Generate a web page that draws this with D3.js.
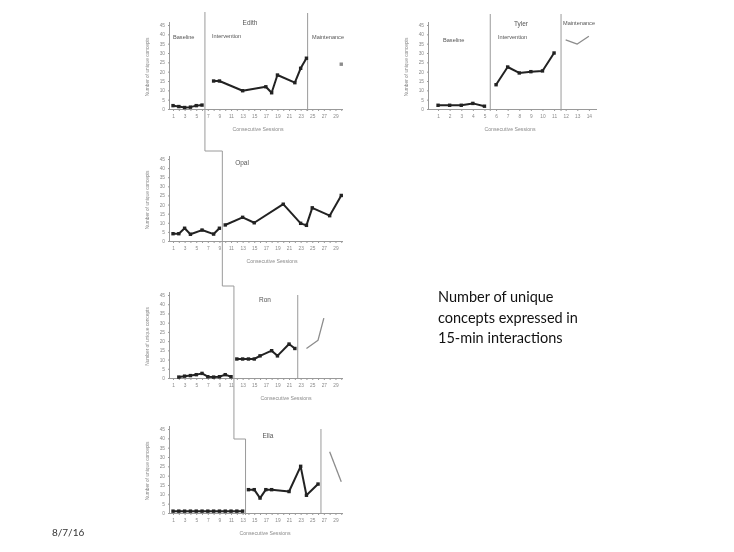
<!DOCTYPE html>
<html>
<head>
<meta charset="utf-8">
<script src="https://cdn.jsdelivr.net/npm/d3@7/dist/d3.min.js"></script>
<style>
  html, body { margin: 0; padding: 0; background: #fff; }
  svg { display: block; }
</style>
</head>
<body>
<svg id="chart" width="734" height="552"></svg>
<script>
// ---------------- DATA ----------------
const yTicks = [0, 5, 10, 15, 20, 25, 30, 35, 40, 45];
const longSessionTicks = d3.range(1, 31);
const longSessionLabels = [1, 3, 5, 7, 9, 11, 13, 15, 17, 19, 21, 23, 25, 27, 29];
const shortSessionTicks = d3.range(1, 15);
const shortSessionLabels = [1, 2, 3, 4, 5, 6, 7, 8, 9, 10, 11, 12, 13, 14];

const xTitle = "Consecutive Sessions";
const yTitle = "Number of unique concepts";

// Edith
const edithBaseSessions = [1, 2, 3, 4, 5, 6];
const edithBaseValues   = [1.8, 1.3, 0.8, 1, 1.8, 2.1];
const edithIntSessions  = [8, 9, 13, 17, 18, 19, 22, 23, 24];
const edithIntValues    = [15, 15, 9.8, 11.9, 8.7, 18.2, 14.1, 21.8, 27.2];
const edithMaintSessions = [30];
const edithMaintValues   = [24];
const edithPhaseChanges  = [6.5, 24.2];

// Tyler
const tylerBaseSessions = [1, 2, 3, 4, 5];
const tylerBaseValues   = [2, 2, 2, 3, 1.5];
const tylerIntSessions  = [6, 7, 8, 9, 10, 11];
const tylerIntValues    = [13, 22.5, 19.3, 20, 20.4, 30];
const tylerMaintSessions = [12, 13, 14];
const tylerMaintValues   = [37, 34.8, 39];
const tylerPhaseChanges  = [5.5, 11.6];

// Opal
const opalBaseSessions = [1, 2, 3, 4, 6, 8, 9];
const opalBaseValues   = [4, 4, 7, 3.7, 6, 3.8, 7];
const opalIntSessions  = [10, 13, 15, 20, 23, 24, 25, 28, 30];
const opalIntValues    = [8.8, 13, 10, 20.2, 9.7, 8.6, 18.2, 13.9, 25];
const opalPhaseChanges = [9.5];

// Ron
const ronBaseSessions = [2, 3, 4, 5, 6, 7, 8, 9, 10, 11];
const ronBaseValues   = [0.5, 1, 1.3, 1.8, 2.5, 0.7, 0.5, 0.7, 1.8, 0.7];
const ronIntSessions  = [12, 13, 14, 15, 16, 18, 19, 21, 22];
const ronIntValues    = [10.3, 10.3, 10.3, 10.3, 12, 14.8, 12, 18.4, 16];
const ronMaintSessions = [24, 26, 27];
const ronMaintValues   = [16, 20.5, 32.5];
const ronPhaseChanges  = [11.5, 22.5];

// Ella
const ellaBaseSessions = [1, 2, 3, 4, 5, 6, 7, 8, 9, 10, 11, 12, 13];
const ellaBaseValues   = [1, 1, 1, 1, 1, 1, 1, 1, 1, 1, 1, 1, 1];
const ellaIntSessions  = [14, 15, 16, 17, 18, 21, 23, 24, 26];
const ellaIntValues    = [12.5, 12.5, 8, 12.5, 12.5, 11.5, 25, 9.5, 15.5];
const ellaMaintSessions = [28, 30];
const ellaMaintValues   = [32.8, 16.8];
const ellaPhaseChanges  = [13.5, 26.5];

const noteLines = ["Number of unique", "concepts expressed in", "15-min interactions"];
const dateText = "8/7/16";

// ---------------- DRAW ----------------
const svg = d3.select("#chart");
svg.append("defs").append("filter").attr("id", "soft")
  .attr("x", "-5%").attr("y", "-5%").attr("width", "110%").attr("height", "110%")
  .append("feGaussianBlur").attr("stdDeviation", 0.55);
const chartLayer = svg.append("g").attr("filter", "url(#soft)");

const FONT = "Liberation Sans, Arial, sans-serif";
const axisCol = "#9a9a9a", labelCol = "#8a8a8a", lineCol = "#222", maintCol = "#8c8c8c", phaseCol = "#9a9a9a";

function zip(s, v) { return s.map((d, i) => ({ s: d, v: v[i] })); }

function panel(cfg) {
  const x = d3.scaleLinear().domain(cfg.xDomain).range([cfg.left, cfg.right]);
  const y = d3.scaleLinear().domain([0, 45]).range([cfg.bottom, cfg.top]);
  const g = chartLayer.append("g");

  const ya = d3.axisLeft(y).tickValues(yTicks).tickSize(2).tickPadding(3);
  const yg = g.append("g").attr("transform", `translate(${cfg.left},0)`).call(ya);
  yg.select(".domain").attr("stroke", axisCol).attr("d", `M-0.5,${cfg.top - 3}V${cfg.bottom}`);
  yg.selectAll(".tick line").attr("stroke", axisCol);
  yg.selectAll("text").attr("font-family", FONT).attr("font-size", 4.8).attr("fill", labelCol);

  const xa = d3.axisBottom(x).tickValues(cfg.ticks).tickSize(2).tickPadding(4)
    .tickFormat(d => cfg.labels.includes(d) ? d : "");
  const xg = g.append("g").attr("transform", `translate(0,${cfg.bottom})`).call(xa);
  xg.select(".domain").attr("stroke", axisCol).attr("d", `M${cfg.left},0.5H${cfg.right}`);
  xg.selectAll(".tick line").attr("stroke", axisCol);
  xg.selectAll("text").attr("font-family", FONT).attr("font-size", 4.8).attr("fill", labelCol);

  g.append("text").attr("x", cfg.xTitleX).attr("y", cfg.bottom + 22).attr("text-anchor", "middle")
    .attr("font-family", FONT).attr("font-size", 5.2).attr("fill", labelCol).text(xTitle);
  g.append("text").attr("transform", `translate(${cfg.left - 21},${(cfg.top + cfg.bottom) / 2}) rotate(-90)`)
    .attr("text-anchor", "middle").attr("font-family", FONT).attr("font-size", 4.8).attr("fill", labelCol).text(yTitle);
  g.append("text").attr("x", cfg.nameX).attr("y", cfg.nameY).attr("text-anchor", "middle")
    .attr("font-family", FONT).attr("font-size", 6.5).attr("fill", "#555").text(cfg.name);
  (cfg.phaseLabels || []).forEach(p => {
    g.append("text").attr("x", p.x).attr("y", p.y).attr("font-family", FONT)
      .attr("font-size", 5.6).attr("fill", "#555").text(p.t);
  });

  (cfg.phaseLines || []).forEach(p => {
    g.append("line").attr("x1", x(p.s)).attr("x2", x(p.s)).attr("y1", p.y1).attr("y2", p.y2)
      .attr("stroke", phaseCol).attr("stroke-width", 1);
  });

  const line = d3.line().x(d => x(d.s)).y(d => y(d.v));
  cfg.series.forEach(sr => {
    const data = zip(sr.s, sr.v);
    if (data.length > 1) {
      g.append("path").datum(data).attr("d", line).attr("fill", "none")
        .attr("stroke", sr.maint ? maintCol : lineCol).attr("stroke-width", sr.maint ? 1.3 : 2)
        .attr("stroke-linejoin", "round");
    }
    if (sr.markers) {
      g.selectAll(null).data(data).enter().append("rect")
        .attr("x", d => x(d.s) - 1.7).attr("y", d => y(d.v) - 1.7)
        .attr("width", 3.4).attr("height", 3.4)
        .attr("fill", sr.maint ? maintCol : lineCol);
    }
  });
  return { x, y };
}

const longDomain = [0.48, 30.3];

const pE = panel({
  left: 170, right: 343, top: 25, bottom: 109, xDomain: longDomain,
  ticks: longSessionTicks, labels: longSessionLabels, xTitleX: 258,
  name: "Edith", nameX: 250, nameY: 25,
  phaseLabels: [{ t: "Baseline", x: 173, y: 39 }, { t: "Intervention", x: 212, y: 38 }, { t: "Maintenance", x: 312, y: 39 }],
  phaseLines: [{ s: edithPhaseChanges[1], y1: 13, y2: 111 }],
  series: [
    { s: edithBaseSessions, v: edithBaseValues, markers: true },
    { s: edithIntSessions, v: edithIntValues, markers: true },
    { s: edithMaintSessions, v: edithMaintValues, markers: true, maint: true }
  ]
});

const pT = panel({
  left: 429, right: 597, top: 25, bottom: 109, xDomain: [0.22, 14.7],
  ticks: shortSessionTicks, labels: shortSessionLabels, xTitleX: 510,
  name: "Tyler", nameX: 521, nameY: 26,
  phaseLabels: [{ t: "Baseline", x: 443, y: 42 }, { t: "Intervention", x: 498, y: 39 }, { t: "Maintenance", x: 563, y: 25 }],
  phaseLines: [{ s: tylerPhaseChanges[0], y1: 14, y2: 111 }, { s: tylerPhaseChanges[1], y1: 14, y2: 111 }],
  series: [
    { s: tylerBaseSessions, v: tylerBaseValues, markers: true },
    { s: tylerIntSessions, v: tylerIntValues, markers: true },
    { s: tylerMaintSessions, v: tylerMaintValues, markers: false, maint: true }
  ]
});

const pO = panel({
  left: 170, right: 343, top: 159, bottom: 241, xDomain: longDomain,
  ticks: longSessionTicks, labels: longSessionLabels, xTitleX: 272,
  name: "Opal", nameX: 242, nameY: 165,
  series: [
    { s: opalBaseSessions, v: opalBaseValues, markers: true },
    { s: opalIntSessions, v: opalIntValues, markers: true }
  ]
});

const pR = panel({
  left: 170, right: 343, top: 295, bottom: 378, xDomain: longDomain,
  ticks: longSessionTicks, labels: longSessionLabels, xTitleX: 286,
  name: "Ron", nameX: 265, nameY: 302,
  phaseLines: [{ s: ronPhaseChanges[1], y1: 295, y2: 379 }],
  series: [
    { s: ronBaseSessions, v: ronBaseValues, markers: true },
    { s: ronIntSessions, v: ronIntValues, markers: true },
    { s: ronMaintSessions, v: ronMaintValues, markers: false, maint: true }
  ]
});

const pEl = panel({
  left: 170, right: 343, top: 429, bottom: 513, xDomain: longDomain,
  ticks: longSessionTicks, labels: longSessionLabels, xTitleX: 265,
  name: "Ella", nameX: 268, nameY: 438,
  phaseLines: [{ s: ellaPhaseChanges[1], y1: 429, y2: 514 }],
  series: [
    { s: ellaBaseSessions, v: ellaBaseValues, markers: true },
    { s: ellaIntSessions, v: ellaIntValues, markers: true },
    { s: ellaMaintSessions, v: ellaMaintValues, markers: false, maint: true }
  ]
});

// multiple-baseline step line
const xe = pE.x(edithPhaseChanges[0]), xo = pO.x(opalPhaseChanges[0]),
      xr = pR.x(ronPhaseChanges[0]), xl = pEl.x(ellaPhaseChanges[0]);
const stepPts = [[xe, 12], [xe, 151], [xo, 151], [xo, 286], [xr, 286], [xr, 439], [xl, 439], [xl, 515]];
chartLayer.append("path").attr("d", d3.line()(stepPts)).attr("fill", "none")
  .attr("stroke", phaseCol).attr("stroke-width", 1);

// note text
const note = svg.append("text").attr("font-family", "Lato, 'Open Sans', sans-serif").attr("font-size", 14.5).attr("fill", "#111");
noteLines.forEach((t, i) => note.append("tspan").attr("x", 438).attr("y", 302 + i * 20.5).text(t));

svg.append("text").attr("x", 52).attr("y", 536).attr("font-family", "Lato, 'Open Sans', sans-serif")
  .attr("font-size", 10).attr("fill", "#333").text(dateText);
</script>
</body>
</html>
